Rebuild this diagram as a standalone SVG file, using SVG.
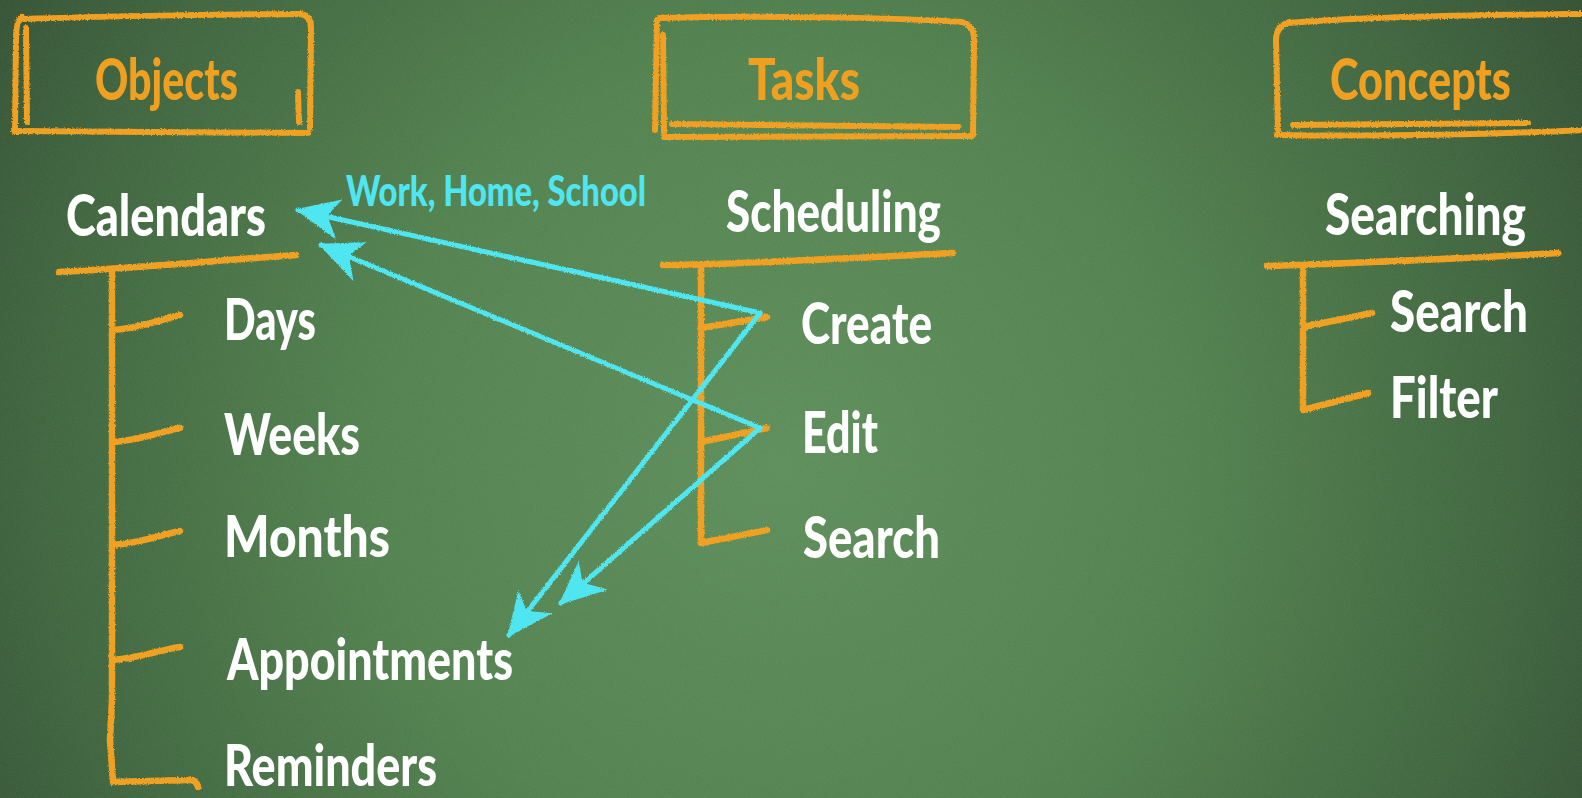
<svg xmlns="http://www.w3.org/2000/svg" width="1582" height="798" viewBox="0 0 1582 798">
  <defs>
    <radialGradient id="board" cx="780" cy="460" r="1000" gradientUnits="userSpaceOnUse">
      <stop offset="0" stop-color="#5a8c57"/>
      <stop offset="0.4" stop-color="#4f804c"/>
      <stop offset="0.75" stop-color="#3b613a"/>
      <stop offset="1" stop-color="#2b452b"/>
    </radialGradient>
    <filter id="grain" x="0" y="0" width="100%" height="100%">
      <feTurbulence type="fractalNoise" baseFrequency="0.9" numOctaves="2" seed="4" result="n"/>
      <feColorMatrix in="n" type="matrix" values="0 0 0 0 1  0 0 0 0 1  0 0 0 0 1  0 0 0 0.08 0"/>
    </filter>
    <filter id="chalk" x="-5%" y="-5%" width="110%" height="110%">
      <feTurbulence type="fractalNoise" baseFrequency="0.7" numOctaves="2" seed="7" result="t"/>
      <feDisplacementMap in="SourceGraphic" in2="t" scale="3" xChannelSelector="R" yChannelSelector="G"/>
    </filter>
    <marker id="chalkhead" markerUnits="userSpaceOnUse" markerWidth="90" markerHeight="90" viewBox="-70 -45 90 90" refX="0" refY="0" orient="auto" overflow="visible">
      <path d="M3,0 L-44,-21 L-33,-4 L-31,3 L-41,20 Z" fill="#4fe6f2"/>
    </marker>
    <style>
      .hdr { font-family: Lato, "DejaVu Sans Condensed", "Liberation Sans", sans-serif; font-weight: 900; font-size: 58px; fill: #f0a020; }
      .item { font-family: Lato, "DejaVu Sans Condensed", "Liberation Sans", sans-serif; font-weight: 900; font-size: 57px; fill: #ffffff; }
      .note { font-family: Lato, "DejaVu Sans Condensed", "Liberation Sans", sans-serif; font-weight: 900; font-size: 42px; fill: #4fe6f2; }
      .box { fill: none; stroke: #f0a020; stroke-width: 6; stroke-linecap: round; stroke-linejoin: round; }
      .tree { fill: none; stroke: #f0a020; stroke-width: 6.5; stroke-linecap: round; stroke-linejoin: round; }
      .arrow { fill: none; stroke: #4fe6f2; stroke-width: 5; stroke-linecap: round; marker-end: url(#chalkhead); }
    </style>
  </defs>

  <!-- chalkboard -->
  <rect width="1582" height="798" fill="url(#board)"/>
  <rect width="1582" height="798" filter="url(#grain)"/>

  <!-- column headers -->
  <g id="objects-header">
    <g filter="url(#chalk)">
      <path class="box" d="M24,19 C100,16 250,14 300,14 Q311,15 311,28 L310,128"/>
      <path class="box" d="M14,131 L308,133"/>
      <path class="box" d="M22,17 Q16,20 16,40 L15,130"/>
      <path class="box" d="M26,28 L27,122" stroke-width="3.5"/>
      <path class="box" d="M298,92 L299,122" stroke-width="3.5"/>
    </g>
    <text class="hdr" x="95" y="100" textLength="143" lengthAdjust="spacingAndGlyphs">Objects</text>
  </g>

  <g id="tasks-header">
    <g filter="url(#chalk)">
      <path class="box" d="M660,18 C760,15 900,18 962,22 Q975,26 974,40 L973,135"/>
      <path class="box" d="M664,137 L972,136"/>
      <path class="box" d="M672,124 L958,127"/>
      <path class="box" d="M657,20 L655,130"/>
      <path class="box" d="M663,35 L664,132" stroke-width="3.5"/>
    </g>
    <text class="hdr" x="748" y="100" textLength="112" lengthAdjust="spacingAndGlyphs">Tasks</text>
  </g>

  <g id="concepts-header">
    <g filter="url(#chalk)">
      <path class="box" d="M1288,23 C1350,18 1450,15 1584,14"/>
      <path class="box" d="M1290,22 Q1276,26 1276,40 L1278,133"/>
      <path class="box" d="M1277,135 C1400,137 1500,134 1584,130"/>
      <path class="box" d="M1293,125 L1528,123" stroke-width="4.5"/>
    </g>
    <text class="hdr" x="1330" y="100" textLength="181" lengthAdjust="spacingAndGlyphs">Concepts</text>
  </g>

  <!-- brackets and arrows -->
  <g id="connectors">
    <g filter="url(#chalk)">
      <!-- Objects tree -->
      <path class="tree" d="M59,272 C130,268 200,262 296,255" stroke-width="5"/>
      <path class="tree" d="M112,272 L112,700 L110,740 L113,782 L188,780 Q196,779 198,787"/>
      <path class="tree" d="M113,330 C140,328 160,320 180,315"/>
      <path class="tree" d="M113,442 C140,440 160,432 180,428"/>
      <path class="tree" d="M113,545 C140,543 160,535 180,531"/>
      <path class="tree" d="M113,660 C140,658 160,650 180,647"/>
      <!-- Tasks tree -->
      <path class="tree" d="M663,265 C750,264 850,258 953,253" stroke-width="5"/>
      <path class="tree" d="M701,265 L701,543 L767,530"/>
      <path class="tree" d="M701,328 L767,317"/>
      <path class="tree" d="M701,442 L767,428"/>
      <!-- Concepts tree -->
      <path class="tree" d="M1267,266 C1380,262 1470,258 1558,253" stroke-width="5"/>
      <path class="tree" d="M1303,266 L1303,410 L1368,393"/>
      <path class="tree" d="M1303,327 L1372,313"/>
      <!-- cyan arrows -->
      <path class="arrow" d="M760,313 L298,210"/>
      <path class="arrow" d="M760,313 L509,635"/>
      <path class="arrow" d="M760,428 L321,245"/>
      <path class="arrow" d="M760,428 L561,603"/>
    </g>
  </g>

  <g id="note-calendars">
    <text class="note" x="346" y="206" textLength="300" lengthAdjust="spacingAndGlyphs">Work, Home, School</text>
  </g>

  <!-- Objects items -->
  <g id="calendars"><text class="item" x="66" y="236" textLength="200" lengthAdjust="spacingAndGlyphs">Calendars</text></g>
  <g id="days"><text class="item" x="224" y="340" textLength="92" lengthAdjust="spacingAndGlyphs">Days</text></g>
  <g id="weeks"><text class="item" x="224" y="455" textLength="136" lengthAdjust="spacingAndGlyphs">Weeks</text></g>
  <g id="months"><text class="item" x="224" y="557" textLength="166" lengthAdjust="spacingAndGlyphs">Months</text></g>
  <g id="appointments"><text class="item" x="227" y="680" textLength="286" lengthAdjust="spacingAndGlyphs">Appointments</text></g>
  <g id="reminders"><text class="item" x="224" y="786" textLength="213" lengthAdjust="spacingAndGlyphs">Reminders</text></g>

  <!-- Tasks items -->
  <g id="scheduling"><text class="item" x="726" y="232" textLength="215" lengthAdjust="spacingAndGlyphs">Scheduling</text></g>
  <g id="create"><text class="item" x="801" y="344" textLength="131" lengthAdjust="spacingAndGlyphs">Create</text></g>
  <g id="edit"><text class="item" x="802" y="453" textLength="76" lengthAdjust="spacingAndGlyphs">Edit</text></g>
  <g id="task-search"><text class="item" x="803" y="558" textLength="137" lengthAdjust="spacingAndGlyphs">Search</text></g>

  <!-- Concepts items -->
  <g id="searching"><text class="item" x="1325" y="235" textLength="201" lengthAdjust="spacingAndGlyphs">Searching</text></g>
  <g id="concept-search"><text class="item" x="1390" y="332" textLength="138" lengthAdjust="spacingAndGlyphs">Search</text></g>
  <g id="filter"><text class="item" x="1390" y="418" textLength="108" lengthAdjust="spacingAndGlyphs">Filter</text></g>
</svg>
